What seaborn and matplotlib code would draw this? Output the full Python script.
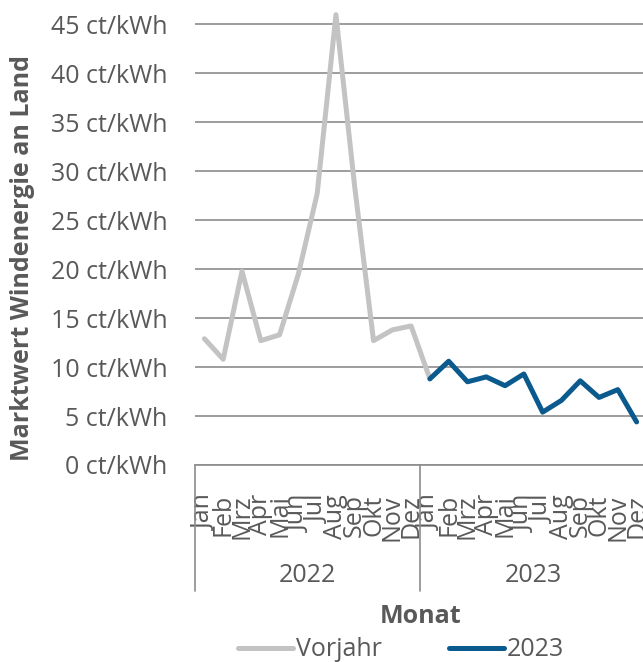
import pandas as pd
import matplotlib
matplotlib.use('Agg')
from matplotlib import pyplot as plt
from matplotlib import transforms
import seaborn as sns

months = ['Jan', 'Feb', 'Mrz', 'Apr', 'Mai', 'Jun', 'Jul', 'Aug', 'Sep', 'Okt', 'Nov', 'Dez']
years = ['2022', '2023']
# Vorjahr: Jan 2022 .. Jan 2023, 2023: Jan .. Dez 2023 (ct/kWh)
vorjahr = [12.9, 10.8, 19.8, 12.7, 13.3, 19.5, 27.7, 46.0, 28.4, 12.7, 13.8, 14.2, 8.8]
werte_2023 = [8.8, 10.6, 8.5, 9.0, 8.1, 9.3, 5.4, 6.6, 8.6, 6.9, 7.7, 4.4]
y_ticks = [0, 5, 10, 15, 20, 25, 30, 35, 40, 45]

GRAY = '#c3c3c3'
BLUE = '#0b5a8e'
TEXT = '#595959'
LINE = '#8c8c8c'

df = pd.concat([
    pd.DataFrame({'pos': range(len(vorjahr)), 'value': vorjahr, 'series': 'Vorjahr'}),
    pd.DataFrame({'pos': range(12, 12 + len(werte_2023)), 'value': werte_2023, 'series': '2023'}),
])

sns.set_theme(style='white')
plt.rcParams['font.family'] = ['Open Sans', 'DejaVu Sans']
plt.rcParams['text.color'] = TEXT

fig = plt.figure(figsize=(6.43, 6.62), dpi=100)
ax = fig.add_axes([195 / 643, 197 / 662, 451 / 643, 465 / 662])

sns.lineplot(data=df, x='pos', y='value', hue='series', palette={'Vorjahr': GRAY, '2023': BLUE},
             linewidth=3.6, ax=ax, legend=False, sort=False)

n = len(months) * len(years)
ax.set_xlim(-0.5, n - 0.5)
ax.set_ylim(0, 47.5)
ax.set_yticks(y_ticks)
ax.set_yticklabels([f'{v} ct/kWh' for v in y_ticks], fontsize=18, color=TEXT)
ax.yaxis.grid(True, color=LINE, linewidth=1.2)
ax.set_axisbelow(True)

ax.set_xticks(range(n))
ax.set_xticklabels(months * len(years), rotation=90, va='top', fontsize=18, color=TEXT)
ax.tick_params(axis='both', length=0)
ax.tick_params(axis='x', pad=21)
ax.tick_params(axis='y', pad=20)

for s in ['top', 'right', 'left']:
    ax.spines[s].set_visible(False)
ax.spines['bottom'].set_color(LINE)
ax.spines['bottom'].set_linewidth(1.2)

# category box with year groups
trans = transforms.blended_transform_factory(ax.transData, ax.transAxes)
for i in range(len(years) + 1):
    xb = i * len(months) - 0.5
    ax.plot([xb, xb], [0, -0.27], transform=trans, color=LINE, lw=1.2, clip_on=False)
for i, yr in enumerate(years):
    ax.text(i * len(months) + (len(months) - 1) / 2, -0.237, yr, transform=trans,
            ha='center', va='center', fontsize=18, color=TEXT)

ax.set_xlabel('Monat', fontsize=18, fontweight='bold', color=TEXT, va='center')
ax.xaxis.set_label_coords(0.5, -0.325)
ax.set_ylabel('Marktwert Windenergie an Land', fontsize=18, fontweight='bold', color=TEXT)
ax.yaxis.set_label_coords(-0.355, 0.445)

handles = ax.get_lines()[:2]
fig.legend(handles, ['Vorjahr', '2023'], loc='center', bbox_to_anchor=(0.624, 12 / 662),
           ncol=2, frameon=False, fontsize=18, handlelength=2.2, handletextpad=0.1,
           columnspacing=2.7, labelcolor=TEXT)

fig.savefig('out.png', dpi=100)
